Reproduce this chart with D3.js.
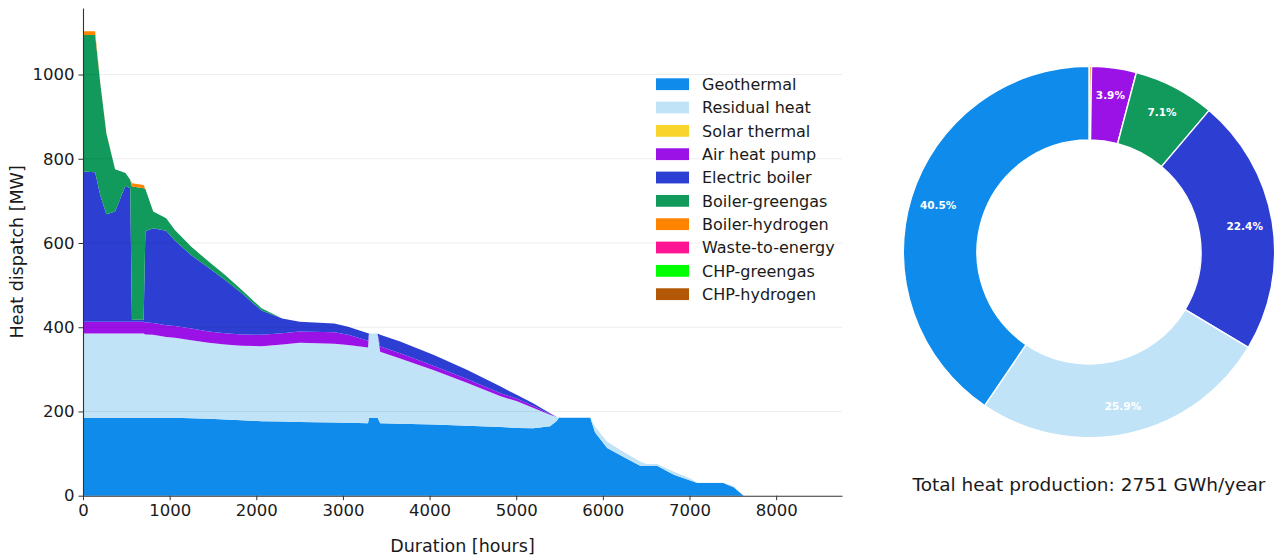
<!DOCTYPE html>
<html>
<head>
<meta charset="utf-8">
<script src="https://cdn.jsdelivr.net/npm/d3@7"></script>
<style>
  html, body { margin: 0; padding: 0; background: #fff; }
  svg { display: block; font-family: "DejaVu Sans", sans-serif; }
</style>
</head>
<body>
<script>
// Technologies in stacking / legend order
const technologies = ["Geothermal", "Residual heat", "Solar thermal", "Air heat pump",
  "Electric boiler", "Boiler-greengas", "Boiler-hydrogen", "Waste-to-energy",
  "CHP-greengas", "CHP-hydrogen"];
const techColors = ["#0f8ceb", "#c0e3f8", "#f9d42c", "#9b12e6", "#2d3fd3",
  "#119a5b", "#ff8500", "#ff1493", "#00ff00", "#b35806"];

// Load duration curve: hours sorted by total dispatch (MW per technology)
const durationHours = [0, 140, 200, 270, 370, 490, 545, 565, 700, 720,
  810, 960, 1060, 1250, 1450, 1640, 1830, 2060, 2300, 2500,
  2900, 3060, 3290, 3300, 3400, 3430, 3660, 4050, 4430, 4820,
  5010, 5200, 5390, 5470, 5490, 5855, 5910, 6050, 6240, 6430,
  6500, 6625, 6820, 7010, 7090, 7390, 7510, 7625, 8760];
const geothermal = [185, 185, 185, 185, 185, 185, 185, 185, 185, 185,
  185, 185, 185, 184, 183, 181, 179, 177, 176, 175,
  174, 173, 172, 185, 185, 172, 171, 169, 166, 163,
  161, 160, 165, 178, 185, 185, 150, 113, 92, 71,
  71, 71, 50, 36, 30, 30, 20, 0, 0];
const residualHeat = [200, 200, 200, 200, 200, 200, 200, 200, 200, 198,
  197, 192, 190, 185, 180, 178, 177, 178, 183, 188,
  187, 185, 180, 200, 200, 170, 155, 129, 102, 73,
  63, 48, 27, 9, 0, 0, 14, 15, 12, 10,
  4, 4, 7, 5, 1, 1, 3, 0, 0];
const solarThermal = durationHours.map(() => 0);
const airHeatPump = [28, 28, 28, 28, 28, 28, 28, 28, 28, 28,
  28, 28, 28, 28, 27, 27, 27, 27, 27, 27,
  27, 24, 16, 0, 0, 12, 12, 10, 9, 7,
  6, 5, 2, 0, 0, 0, 0, 0, 0, 0,
  0, 0, 0, 0, 0, 0, 0, 0, 0];
const electricBoiler = [357, 355, 300, 255, 262, 323, 317, 5, 5, 217,
  225, 224, 203, 174, 151, 126, 98, 58, 35, 23,
  21, 19, 18, 0, 0, 28, 28, 26, 22, 16,
  9, 6, 2, 0, 0, 0, 0, 0, 0, 0,
  0, 0, 0, 0, 0, 0, 0, 0, 0];
const boilerGreengas = [324, 326, 265, 192, 100, 30, 20, 316, 312, 100,
  40, 30, 25, 20, 15, 12, 8, 5, 0, 0,
  0, 0, 0, 0, 0, 0, 0, 0, 0, 0,
  0, 0, 0, 0, 0, 0, 0, 0, 0, 0,
  0, 0, 0, 0, 0, 0, 0, 0, 0];
const boilerHydrogen = [9, 9, 2, 1, 0, 0, 0, 8, 8, 0,
  0, 0, 0, 0, 0, 0, 0, 0, 0, 0,
  0, 0, 0, 0, 0, 0, 0, 0, 0, 0,
  0, 0, 0, 0, 0, 0, 0, 0, 0, 0,
  0, 0, 0, 0, 0, 0, 0, 0, 0];
const wasteToEnergy = durationHours.map(() => 0);
const chpGreengas = durationHours.map(() => 0);
const chpHydrogen = durationHours.map(() => 0);

const xTickValues = [0, 1000, 2000, 3000, 4000, 5000, 6000, 7000, 8000];
const yTickValues = [0, 200, 400, 600, 800, 1000];

// Annual heat production per technology [GWh/year], smallest first
const annualTechs = ["Boiler-hydrogen", "Air heat pump", "Boiler-greengas",
  "Electric boiler", "Residual heat", "Geothermal"];
const annualGWh = [6, 107, 195, 616, 713, 1114];

// ---------------------------------------------------------------
const W = 1279, H = 559;
const svg = d3.select("body").append("svg").attr("width", W).attr("height", H);

const seriesValues = [geothermal, residualHeat, solarThermal, airHeatPump,
  electricBoiler, boilerGreengas, boilerHydrogen, wasteToEnergy, chpGreengas, chpHydrogen];

const rows = durationHours.map((h, i) => {
  const r = { hour: h };
  technologies.forEach((t, k) => { r[t] = seriesValues[k][i]; });
  return r;
});

const plot = { left: 83, right: 842, top: 8, bottom: 495.7 };
const x = d3.scaleLinear().domain([0, 8760]).range([plot.left, plot.right]);
const y = d3.scaleLinear().domain([0, 1158]).range([plot.bottom, plot.top]);
const color = d3.scaleOrdinal().domain(technologies).range(techColors);

// stacked layers; technologies that never run are left out of the drawing
const stacked = d3.stack().keys(technologies)(rows)
  .filter((s, k) => d3.max(seriesValues[k]) > 0);
const area = d3.area()
  .x(d => x(d.data.hour))
  .y0(d => y(d[0]))
  .y1(d => y(d[1]));

const chart = svg.append("g");
chart.selectAll("path.layer")
  .data(stacked)
  .join("path")
  .attr("class", "layer")
  .attr("fill", d => color(d.key))
  .attr("d", area);

// faint horizontal grid
chart.selectAll("line.grid")
  .data(yTickValues.filter(v => v > 0))
  .join("line")
  .attr("class", "grid")
  .attr("x1", plot.left).attr("x2", plot.right)
  .attr("y1", d => y(d)).attr("y2", d => y(d))
  .attr("stroke", "#000").attr("stroke-opacity", 0.07).attr("stroke-width", 1);

// axes
const xAxis = svg.append("g")
  .attr("transform", `translate(0,${plot.bottom})`)
  .call(d3.axisBottom(x).tickValues(xTickValues).tickFormat(d3.format("d"))
    .tickSize(4.5).tickSizeOuter(0).tickPadding(4));
const yAxis = svg.append("g")
  .attr("transform", `translate(${plot.left},0)`)
  .call(d3.axisLeft(y).tickValues(yTickValues).tickFormat(d3.format("d"))
    .tickSize(4.5).tickSizeOuter(0).tickPadding(4));
[xAxis, yAxis].forEach(a => {
  a.selectAll("text").attr("font-size", 16.5).attr("fill", "#1a1a1a")
    .attr("font-family", "DejaVu Sans");
  a.selectAll("line").attr("stroke", "#333").attr("stroke-width", 1);
  a.select(".domain").attr("stroke", "#333").attr("stroke-width", 1.1);
});

svg.append("text")
  .attr("x", (plot.left + plot.right) / 2).attr("y", 552)
  .attr("text-anchor", "middle").attr("font-size", 17.5).attr("fill", "#1a1a1a")
  .text("Duration [hours]");
svg.append("text")
  .attr("transform", `translate(23,${(plot.top + plot.bottom) / 2}) rotate(-90)`)
  .attr("text-anchor", "middle").attr("font-size", 17.5).attr("fill", "#1a1a1a")
  .text("Heat dispatch [MW]");

// legend
const legend = svg.append("g").attr("transform", "translate(656,84.2)");
const item = legend.selectAll("g").data(technologies).join("g")
  .attr("transform", (d, i) => `translate(0,${i * 23.33})`);
item.append("rect").attr("x", 0).attr("y", -5.9).attr("width", 33).attr("height", 11.8)
  .attr("fill", d => color(d));
item.append("text").attr("x", 46).attr("y", 0).attr("dy", "0.36em")
  .attr("font-size", 16).attr("fill", "#1a1a1a").text(d => d);

// donut of annual production
const cx = 1089, cy = 252, R = 185.7, r0 = 112;
const totalGWh = d3.sum(annualGWh);
const pie = d3.pie().sort(null).value(d => d.v);
const arcs = pie(annualTechs.map((t, i) => ({ t, v: annualGWh[i] })));
const arc = d3.arc().innerRadius(r0).outerRadius(R);
const labelArc = d3.arc().innerRadius(R * 0.85).outerRadius(R * 0.85);
const donut = svg.append("g").attr("transform", `translate(${cx},${cy})`);
donut.selectAll("path").data(arcs).join("path")
  .attr("d", arc)
  .attr("fill", d => color(d.data.t))
  .attr("stroke", "#fff").attr("stroke-width", 1.4);
donut.selectAll("text").data(arcs.filter(d => d.data.v / totalGWh >= 0.01)).join("text")
  .attr("transform", d => `translate(${labelArc.centroid(d)})`)
  .attr("text-anchor", "middle").attr("dy", "0.36em")
  .attr("font-size", 10.5).attr("font-weight", "bold").attr("fill", "#fff")
  .text(d => (d.data.v / totalGWh * 100).toFixed(1) + "%");

svg.append("text")
  .attr("x", cx).attr("y", 490.5)
  .attr("text-anchor", "middle").attr("font-size", 18.5).attr("fill", "#1a1a1a")
  .text(`Total heat production: ${Math.round(totalGWh)} GWh/year`);
</script>
</body>
</html>
